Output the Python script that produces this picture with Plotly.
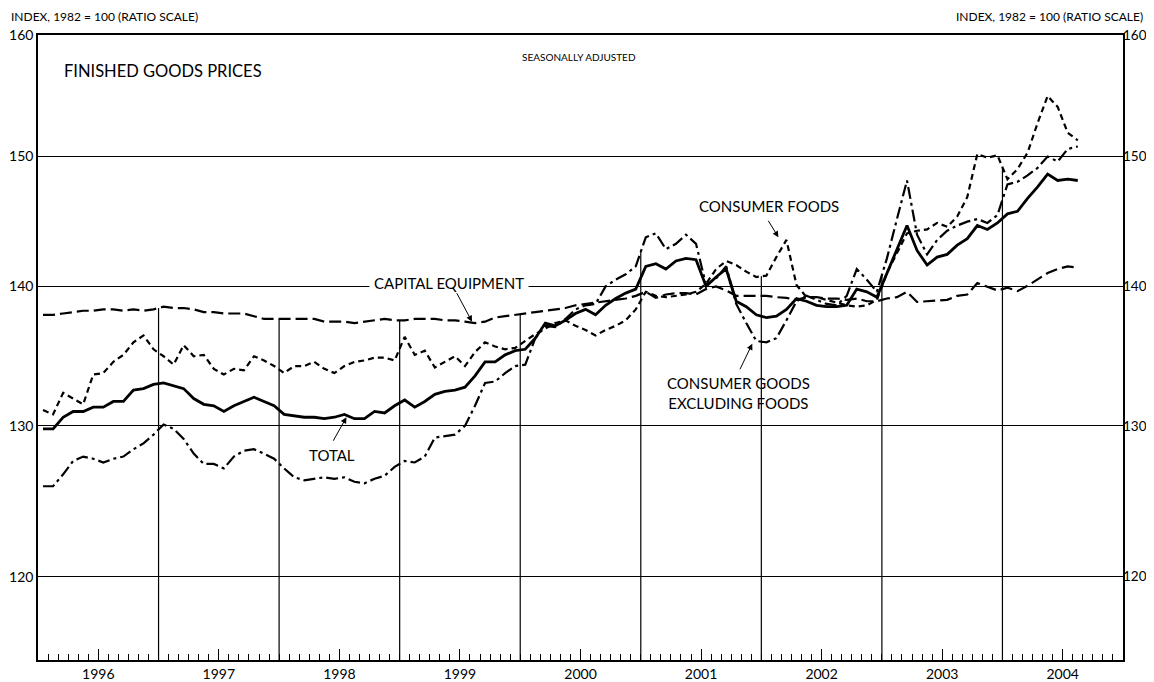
import math
import plotly.graph_objects as go

# ---------------- data (monthly, Jan 1996 - Aug 2004) ----------------
year_labels = ["1996", "1997", "1998", "1999", "2000", "2001", "2002", "2003", "2004"]
y_ticks = [120, 130, 140, 150, 160]

total = [
    129.8, 129.8, 130.6, 131.0, 131.0, 131.3, 131.3, 131.7, 131.7, 132.5, 132.6, 132.9,
    133.0, 132.8, 132.6, 131.9, 131.5, 131.4, 131.0, 131.4, 131.7, 132.0, 131.7, 131.4,
    130.8, 130.7, 130.6, 130.6, 130.5, 130.6, 130.8, 130.5, 130.5, 131.0, 130.9, 131.4,
    131.8, 131.3, 131.7, 132.2, 132.4, 132.5, 132.7, 133.5, 134.5, 134.5, 135.0, 135.3,
    135.4, 136.2, 137.3, 137.1, 137.5, 138.0, 138.3, 137.9, 138.6, 139.1, 139.5, 139.8,
    141.5, 141.7, 141.3, 141.9, 142.1, 142.0, 140.0, 140.7, 141.3, 138.9, 138.5, 137.9,
    137.7, 137.8, 138.3, 139.1, 138.9, 138.6, 138.5, 138.5, 138.6, 139.8, 139.6, 139.2,
    141.0, 142.7, 144.6, 142.7, 141.6, 142.2, 142.4, 143.1, 143.6, 144.6, 144.3, 144.8,
    145.5, 145.7, 146.7, 147.6, 148.6, 148.1, 148.2, 148.1,
]

consumer_goods_ex_foods = [
    125.9, 125.9, 126.7, 127.6, 127.9, 127.75, 127.5, 127.75, 127.9, 128.4, 128.8, 129.4,
    130.1, 129.8, 129.1, 128.1, 127.4, 127.4, 127.1, 127.9, 128.3, 128.4, 128.1, 127.75,
    127.1, 126.5, 126.3, 126.4, 126.5, 126.4, 126.5, 126.2, 126.1, 126.4, 126.6, 127.2,
    127.6, 127.5, 127.9, 129.2, 129.3, 129.4, 130.0, 131.4, 133.0, 133.1, 133.7, 134.2,
    134.3, 136.2, 137.1, 137.0, 137.6, 138.3, 138.6, 138.7, 140.0, 140.5, 140.9, 141.5,
    143.7, 144.0, 142.8, 143.2, 143.9, 143.2, 140.1, 140.6, 141.5, 138.7, 137.3, 136.0,
    135.9, 136.2, 137.5, 138.9, 139.3, 139.0, 138.7, 138.6, 139.3, 141.3, 140.5, 139.6,
    142.1, 145.1, 148.1, 143.9, 142.4, 143.5, 144.2, 144.6, 144.9, 145.1, 144.8, 145.4,
    147.8, 148.0, 148.5, 149.1, 150.0, 149.6, 150.6, 150.8,
]

consumer_foods = [
    131.1, 130.8, 132.3, 131.9, 131.5, 133.6, 133.7, 134.5, 135.0, 135.9, 136.4, 135.4,
    134.9, 134.3, 135.7, 134.9, 135.0, 134.0, 133.6, 134.0, 133.9, 134.9, 134.6, 134.2,
    133.7, 134.2, 134.2, 134.5, 134.0, 133.7, 134.2, 134.5, 134.6, 134.8, 134.8, 134.6,
    136.3, 135.0, 135.3, 134.1, 134.5, 134.9, 134.2, 135.2, 135.9, 135.6, 135.4, 135.5,
    136.0, 136.5, 136.9, 137.3, 137.5, 137.1, 136.8, 136.4, 136.8, 137.1, 137.5, 138.3,
    139.6, 139.3, 139.2, 139.3, 139.4, 139.6, 140.2, 141.3, 141.9, 141.6, 141.1, 140.7,
    140.8, 142.2, 143.5, 140.1, 139.2, 139.2, 139.0, 138.8, 138.6, 138.5, 138.6, 139.0,
    141.0, 142.5, 144.0, 144.2, 144.3, 144.8, 144.5, 145.3, 146.8, 150.2, 149.9, 150.1,
    148.2, 149.0, 150.3, 152.7, 154.9, 154.0, 151.9, 151.3,
]

capital_equipment = [
    137.9, 137.9, 138.0, 138.1, 138.2, 138.2, 138.3, 138.3, 138.2, 138.3, 138.2, 138.3,
    138.5, 138.4, 138.4, 138.3, 138.1, 138.1, 138.0, 138.0, 138.0, 137.8, 137.6, 137.6,
    137.6, 137.6, 137.6, 137.6, 137.4, 137.4, 137.4, 137.3, 137.4, 137.5, 137.6, 137.5,
    137.5, 137.6, 137.6, 137.6, 137.5, 137.5, 137.4, 137.3, 137.4, 137.7, 137.8, 137.9,
    137.95, 138.05, 138.2, 138.3, 138.4, 138.6, 138.7, 138.8, 138.85, 139.0, 139.1, 139.3,
    139.6, 139.15, 139.4, 139.5, 139.5, 139.4, 139.8, 140.0, 139.7, 139.3, 139.3, 139.3,
    139.3, 139.2, 139.15, 139.0, 139.2, 139.2, 139.1, 139.1, 139.0, 139.1, 138.9, 138.9,
    139.1, 139.2, 139.6, 138.85, 138.9, 139.0, 139.0, 139.3, 139.4, 140.25, 139.95, 139.7,
    139.9, 139.65, 140.05, 140.5, 141.0, 141.3, 141.5, 141.4,
]

# ---------------- figure ----------------
Y_MIN, Y_MAX = 114.8, 160.0
n = len(total)
n_months_axis = 12 * len(year_labels)
months = [i + 0.5 for i in range(n)]          # mid-month positions, 0 = Jan 1996
all_series = [total, consumer_goods_ex_foods, consumer_foods, capital_equipment]

fig = go.Figure()

# year-boundary drop lines: from axis bottom up to the highest series at that date
vx, vy = [], []
for k in range(1, len(year_labels)):
    b = 12 * k
    top = max((s[b - 1] + s[b]) / 2 for s in all_series)
    vx += [b, b, None]
    vy += [Y_MIN, top, None]
fig.add_trace(go.Scatter(x=vx, y=vy, mode="lines",
                         line=dict(color="black", width=1.2),
                         hoverinfo="skip", showlegend=False))

styles = [
    ("Capital equipment", capital_equipment, "12px,5px", 2.2),
    ("Consumer foods", consumer_foods, "6px,4px", 2.2),
    ("Consumer goods excluding foods", consumer_goods_ex_foods, "12px,4px,3px,4px", 2.2),
    ("Total", total, "solid", 2.8),
]
for name, vals, dash, w in styles:
    fig.add_trace(go.Scatter(x=months, y=vals, mode="lines", name=name,
                             line=dict(color="black", width=w, dash=dash),
                             showlegend=False))

# invisible trace so the right-hand axis is drawn
fig.add_trace(go.Scatter(x=[months[0]], y=[total[0]], yaxis="y2", mode="markers",
                         marker=dict(opacity=0), hoverinfo="skip", showlegend=False))

FONT = "Lato, 'Open Sans', sans-serif"
OFF = 8                      # default page body margin of the html page
W, H = 1154 - 2 * OFF, 682 - OFF
# plot area in page pixels: left 38, top 35, right 1123, bottom 660
L, T = 38 - OFF, 35 - OFF
R, B = W - (1123 - OFF), H - (660 - OFF)
pw, ph = W - L - R, H - T - B


def px(xp):
    """page pixel x -> paper x"""
    return (xp - OFF - L) / pw


def py(yp):
    """page pixel y -> paper y"""
    return (H - B - (yp - OFF)) / ph


log_range = [math.log10(Y_MIN), math.log10(Y_MAX)]
major_ticks = [6 + 12 * k for k in range(len(year_labels))]
minor_ticks = [m for m in range(1, n_months_axis) if m % 12 != 6]

fig.update_layout(
    width=W, height=H,
    margin=dict(l=L, r=R, t=T, b=B, pad=0, autoexpand=False),
    paper_bgcolor="white", plot_bgcolor="white",
    font=dict(family=FONT, color="black", size=14),
    xaxis=dict(
        range=[0, n_months_axis], showgrid=False, zeroline=False, automargin=False,
        tickmode="array", tickvals=major_ticks,
        ticktext=year_labels, ticks="inside", ticklen=11, tickwidth=1.4,
        tickcolor="black",
        minor=dict(ticks="inside", ticklen=6, tickwidth=1.3, tickmode="array",
                   tickvals=minor_ticks, tickcolor="black", showgrid=False),
        showline=True, linecolor="black", linewidth=1.5, mirror=True,
        tickfont=dict(size=14), layer="above traces",
    ),
    yaxis=dict(
        type="log", range=log_range, tickvals=y_ticks, automargin=False,
        ticktext=[str(v) for v in y_ticks], ticks="",
        showgrid=True, gridcolor="black", gridwidth=1, zeroline=False,
        showline=True, linecolor="black", linewidth=1.5, mirror=True,
        tickfont=dict(size=14),
    ),
    yaxis2=dict(
        type="log", range=log_range, tickvals=y_ticks, automargin=False,
        ticktext=[str(v) for v in y_ticks], ticks="",
        overlaying="y", side="right", showgrid=False, zeroline=False,
        showline=False, tickfont=dict(size=13.5), ticklabelstandoff=-1,
    ),
)

ann = []
ann.append(dict(text="INDEX, 1982 = 100 (RATIO SCALE)", xref="paper", yref="paper",
                x=px(8.5), y=py(16), xanchor="left", yanchor="middle",
                showarrow=False, font=dict(size=12)))
ann.append(dict(text="INDEX, 1982 = 100 (RATIO SCALE)", xref="paper", yref="paper",
                x=px(1145), y=py(16), xanchor="right", yanchor="middle",
                showarrow=False, font=dict(size=12)))
ann.append(dict(text="FINISHED GOODS PRICES", xref="paper", yref="paper",
                x=px(62), y=py(71), xanchor="left", yanchor="middle",
                showarrow=False, font=dict(size=16.5)))
ann.append(dict(text="SEASONALLY ADJUSTED", xref="paper", yref="paper",
                x=px(579), y=py(57), xanchor="center", yanchor="middle",
                showarrow=False, font=dict(size=10)))
ann.append(dict(text="CAPITAL EQUIPMENT", xref="paper", yref="paper",
                x=px(449), y=py(283), xanchor="center", yanchor="middle",
                showarrow=False, font=dict(size=15), bgcolor="white", borderpad=4))
ann.append(dict(text="TOTAL", xref="paper", yref="paper",
                x=px(332), y=py(455), xanchor="center", yanchor="middle",
                showarrow=False, font=dict(size=15)))
ann.append(dict(text="CONSUMER FOODS", xref="paper", yref="paper",
                x=px(769), y=py(206), xanchor="center", yanchor="middle",
                showarrow=False, font=dict(size=15)))
ann.append(dict(text="CONSUMER GOODS<br>EXCLUDING FOODS", xref="paper", yref="paper",
                x=px(738), y=py(393), xanchor="center", yanchor="middle",
                showarrow=False, font=dict(size=15)))

# arrows: head on the series (data coords), tail offset in pixels
arrows = [
    (43.2, 137.4, -16, -30),   # capital equipment
    (30.7, 130.6, -14, 25),    # total
    (73.7, 143.7, -11, -18),   # consumer foods
    (71.1, 135.8, -13, 27),    # consumer goods excl foods
]
for xh, yh, axp, ayp in arrows:
    ann.append(dict(text="", x=xh, y=math.log10(yh), xref="x", yref="y",
                    ax=axp, ay=ayp, showarrow=True, arrowhead=2, arrowsize=1.2,
                    arrowwidth=1, arrowcolor="black", standoff=0))

fig.update_layout(annotations=ann)

fig.write_html("out.html")
